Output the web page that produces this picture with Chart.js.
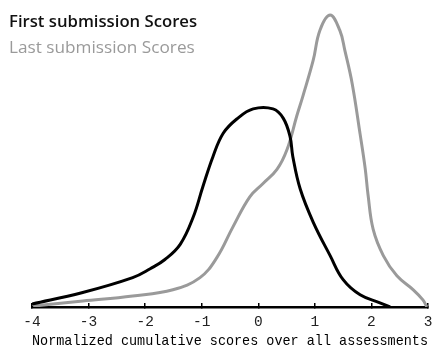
<!DOCTYPE html>
<html>
<head>
<meta charset="utf-8">
<script src="https://cdn.jsdelivr.net/npm/chart.js@4.4.1/dist/chart.umd.min.js"></script>
<style>
  html, body { margin: 0; padding: 0; background: #fff; }
  #wrap { width: 436px; height: 346px; }
</style>
</head>
<body>
<div id="wrap"><canvas id="myChart"></canvas></div>
<script>
// curvas de densidade (x = pontuação normalizada, y = densidade relativa)
const firstX = [-4.00, -3.12, -2.22, -1.91, -1.65, -1.38, -1.15, -0.98, -0.80, -0.62, -0.38, -0.09, 0.26, 0.44, 0.56, 0.61, 0.74, 0.97, 1.27, 1.50, 1.80, 2.15, 2.33];
const firstY = [0.010, 0.048, 0.099, 0.129, 0.160, 0.211, 0.303, 0.405, 0.507, 0.585, 0.633, 0.667, 0.667, 0.636, 0.575, 0.507, 0.398, 0.286, 0.173, 0.092, 0.041, 0.014, 0.000];

const lastX = [-3.98, -3.10, -2.22, -1.51, -1.03, -0.73, -0.45, -0.15, 0.08, 0.33, 0.51, 0.68, 0.79, 0.97, 1.09, 1.27, 1.44, 1.53, 1.66, 1.80, 1.89, 1.94, 2.03, 2.21, 2.45, 2.74, 2.91, 2.98];
const lastY = [0.003, 0.020, 0.037, 0.058, 0.099, 0.167, 0.269, 0.371, 0.415, 0.463, 0.531, 0.643, 0.711, 0.830, 0.932, 0.983, 0.932, 0.864, 0.752, 0.582, 0.466, 0.378, 0.262, 0.173, 0.105, 0.058, 0.024, 0.000];

const xTicks = [-4, -3, -2, -1, 0, 1, 2, 3];

function toPoints(xs, ys) {
    return xs.map((x, i) => ({ x: x, y: ys[i] }));
}

// legenda escrita no canto superior esquerdo, sem caixas
const textLegend = {
    id: 'textLegend',
    afterDraw(chart) {
        const ctx = chart.ctx;
        const sets = chart.data.datasets;
        ctx.save();
        ctx.textBaseline = 'alphabetic';
        ctx.textAlign = 'left';
        ctx.font = '600 16.7px "Open Sans"';
        ctx.fillStyle = '#111';
        ctx.fillText(sets[0].label, 9, 27);
        ctx.font = '400 17.2px "Open Sans"';
        ctx.fillStyle = '#9a9a9a';
        ctx.fillText(sets[1].label, 9, 53);
        ctx.restore();
    }
};

const config = {
    type: 'line',
    data: {
        datasets: [{
            label: 'First submission Scores',
            data: toPoints(firstX, firstY),
            borderColor: '#000',
            borderWidth: 3,
            pointRadius: 0,
            tension: 0.4,
            fill: false
        }, {
            label: 'Last submission Scores',
            data: toPoints(lastX, lastY),
            borderColor: '#9a9a9a',
            borderWidth: 3,
            pointRadius: 0,
            tension: 0.4,
            fill: false
        }]
    },
    options: {
        responsive: true,
        maintainAspectRatio: false,
        animation: false,
        layout: {
            padding: { left: 32, right: 8, top: 10, bottom: 0 }
        },
        plugins: {
            legend: { display: false },
            tooltip: { enabled: false }
        },
        scales: {
            x: {
                type: 'linear',
                min: -4,
                max: 3,
                afterBuildTicks: (axis) => {
                    axis.ticks = xTicks.map(v => ({ value: v }));
                },
                afterFit: (axis) => {
                    // altura fixa da faixa do eixo, para a linha ficar em y≈304
                    axis.height = 39;
                    axis.paddingLeft = 0;
                    axis.paddingRight = 0;
                },
                grid: {
                    drawOnChartArea: false,
                    drawTicks: true,
                    tickLength: -4,  // marcas para cima, como no original
                    color: '#000',
                    lineWidth: 1.5
                },
                border: { color: '#000', width: 2.5 },
                ticks: {
                    color: '#222',
                    padding: 10,
                    maxRotation: 0,
                    font: { family: '"Liberation Mono"', size: 14.5 }
                },
                title: {
                    display: true,
                    text: 'Normalized cumulative scores over all assessments',
                    color: '#000',
                    padding: { top: 4, bottom: 0 },
                    font: { family: '"Liberation Mono"', size: 14.6, lineHeight: 0.7 }
                }
            },
            y: {
                display: false,
                min: 0,
                max: 1
            }
        }
    },
    plugins: [textLegend]
};

document.addEventListener('DOMContentLoaded', function() {
    const ctx = document.getElementById('myChart').getContext('2d');
    new Chart(ctx, config);
});
</script>
</body>
</html>
